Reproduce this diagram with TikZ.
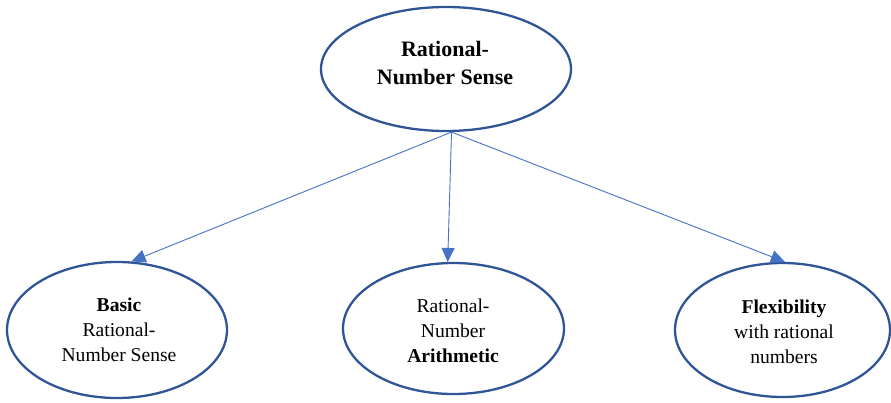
\documentclass[tikz,border=0pt]{standalone}
\usepackage{fontspec}
\setmainfont{Liberation Serif}
\usetikzlibrary{arrows.meta,shapes.geometric}
\definecolor{ellblue}{HTML}{2F5597}
\definecolor{arrblue}{HTML}{4472C4}
\tikzset{
  oval/.style={draw=ellblue, line width=2.3pt, ellipse, inner sep=0pt},
  txt/.style={align=center, inner sep=0pt, font=\fontsize{19.6}{25}\selectfont},
  toptxt/.style={align=center, inner sep=0pt, font=\fontsize{22}{27.3}\selectfont\bfseries},
  link/.style={draw=arrblue, line width=0.9pt, -{Triangle[length=14pt,width=13pt]}}
}
\begin{document}
\begin{tikzpicture}[x=1pt,y=-1pt]
\useasboundingbox (0,0) rectangle (891,402);
\node[oval, minimum width=250pt, minimum height=124pt] (top) at (446,69) {};
\node[oval, minimum width=220pt, minimum height=136pt] (left) at (117,330) {};
\node[oval, minimum width=221pt, minimum height=131pt] (mid) at (453.5,328.5) {};
\node[oval, minimum width=215pt, minimum height=134pt] (right) at (782.5,330) {};
\node[toptxt] (toplbl) at (445,63) {Rational-\\Number Sense};
\node[txt] (leftlbl) at (119,329.5) {\textbf{Basic}\\Rational-\\Number Sense};
\node[txt] (midlbl) at (453,330.5) {Rational-\\Number\\\textbf{Arithmetic}};
\node[txt] (rightlbl) at (784,332) {\textbf{Flexibility}\\with rational\\numbers};
\coordinate (src) at (top.-85);
\draw[link] (src) -- (left.78);
\draw[link] (src) -- (mid.95.7);
\draw[link] (src) -- (right.88);
\end{tikzpicture}
\end{document}
